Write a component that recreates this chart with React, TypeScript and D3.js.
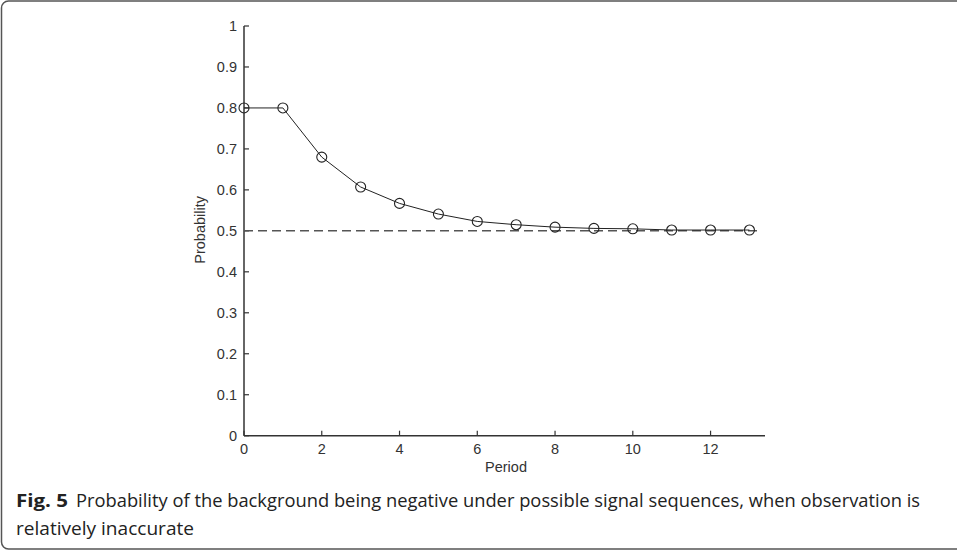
import React from "react";
import * as d3 from "d3";

const periods = [0, 1, 2, 3, 4, 5, 6, 7, 8, 9, 10, 11, 12, 13];
const probability = [0.8, 0.8, 0.68, 0.607, 0.567, 0.541, 0.523, 0.515, 0.509, 0.506, 0.505, 0.502, 0.502, 0.502];
const referenceLevel = 0.5;
const xTicks = [0, 2, 4, 6, 8, 10, 12];
const yTicks = [0, 0.1, 0.2, 0.3, 0.4, 0.5, 0.6, 0.7, 0.8, 0.9, 1];
const yTickLabels = ["0", "0.1", "0.2", "0.3", "0.4", "0.5", "0.6", "0.7", "0.8", "0.9", "1"];

export default function App() {
  const W = 957, H = 554;
  const x = d3.scaleLinear().domain([0, 13.4]).range([244, 765]);
  const y = d3.scaleLinear().domain([0, 1]).range([435.7, 26]);
  const line = d3.line<number>().x((_, i) => x(periods[i])).y((d) => y(d));
  const tickFont = "'Liberation Sans', Arial, sans-serif";
  const capFont = "'Open Sans', 'Noto Sans', sans-serif";
  const axisColor = "#333";
  return (
    <svg width={W} height={H} style={{ position: "absolute", left: 0, top: 0, display: "block", background: "#fff" }}>
      <rect x={1.5} y={1} width={1000} height={548} rx={7} fill="#fff" stroke="#555" strokeWidth={1.5} />
      {/* axes */}
      <line x1={x(0)} x2={x(0)} y1={y(1)} y2={y(0)} stroke={axisColor} strokeWidth={1.5} />
      <line x1={x(0)} x2={x.range()[1]} y1={y(0)} y2={y(0)} stroke={axisColor} strokeWidth={1.5} />
      {yTicks.map((t, i) => (
        <g key={"y" + i}>
          <line x1={x(0)} x2={x(0) + 5} y1={y(t)} y2={y(t)} stroke={axisColor} strokeWidth={1.2} />
          <text x={237} y={y(t)} dy="0.36em" textAnchor="end" fontFamily={tickFont} fontSize={14.5} fill="#333">
            {yTickLabels[i]}
          </text>
        </g>
      ))}
      {xTicks.map((t) => (
        <g key={"x" + t}>
          <line x1={x(t)} x2={x(t)} y1={y(0)} y2={y(0) - 5} stroke={axisColor} strokeWidth={1.2} />
          <text x={x(t)} y={454} textAnchor="middle" fontFamily={tickFont} fontSize={14.5} fill="#333">
            {t}
          </text>
        </g>
      ))}
      <text x={506} y={472} textAnchor="middle" fontFamily={tickFont} fontSize={14.5} fill="#333">Period</text>
      <text transform={`translate(205,${y(0.5) - 1}) rotate(-90)`} textAnchor="middle" fontFamily={tickFont} fontSize={14.5} fill="#333">
        Probability
      </text>
      {/* reference dashed line */}
      <line x1={x(0)} x2={x(13.2)} y1={y(referenceLevel)} y2={y(referenceLevel)} stroke="#555" strokeWidth={1.5} strokeDasharray="9,5" />
      {/* data line */}
      <path d={line(probability) || ""} fill="none" stroke="#222" strokeWidth={1} />
      {probability.map((v, i) => (
        <circle key={i} cx={x(periods[i])} cy={y(v)} r={5} fill="none" stroke="#222" strokeWidth={1.1} />
      ))}
      {/* caption */}
      <text x={16} y={507} fontFamily={capFont} fontSize={18} fontWeight="bold" fill="#222" textLength={52} lengthAdjust="spacingAndGlyphs">
        Fig. 5
      </text>
      <text x={76} y={507} fontFamily={capFont} fontSize={18} fill="#222" textLength={844} lengthAdjust="spacingAndGlyphs">
        Probability of the background being negative under possible signal sequences, when observation is
      </text>
      <text x={16} y={535} fontFamily={capFont} fontSize={18} fill="#222" textLength={178} lengthAdjust="spacingAndGlyphs">
        relatively inaccurate
      </text>
    </svg>
  );
}
